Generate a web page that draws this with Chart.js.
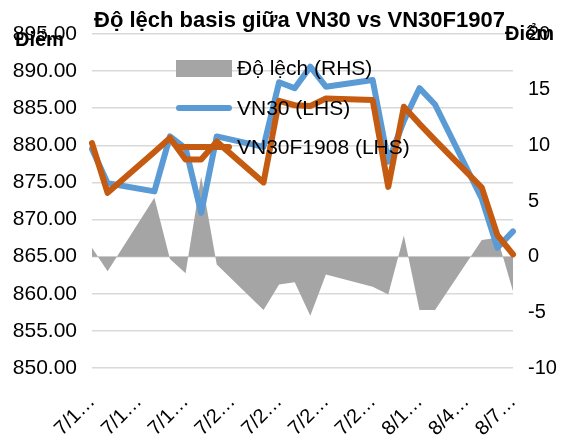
<!DOCTYPE html>
<html>
<head>
<meta charset="utf-8">
<script src="https://cdn.jsdelivr.net/npm/chart.js@4.4.1/dist/chart.umd.min.js"></script>
<style>
  html, body { margin: 0; padding: 0; background: #fff; }
</style>
</head>
<body>
<canvas id="basisChart" width="564" height="441"></canvas>
<script>
// Date axis: every calendar day, only every 3rd one gets a label
const axisDays = [
    "7/11/2019", "7/12/2019", "7/13/2019", "7/14/2019", "7/15/2019", "7/16/2019", "7/17/2019",
    "7/18/2019", "7/19/2019", "7/20/2019", "7/21/2019", "7/22/2019", "7/23/2019", "7/24/2019",
    "7/25/2019", "7/26/2019", "7/27/2019", "7/28/2019", "7/29/2019", "7/30/2019", "7/31/2019",
    "8/1/2019", "8/2/2019", "8/3/2019", "8/4/2019", "8/5/2019", "8/6/2019", "8/7/2019",
];

// Trading days (weekends have no data)
const tradingDays = [
    "7/11/2019", "7/12/2019", "7/15/2019", "7/16/2019", "7/17/2019", "7/18/2019", "7/19/2019",
    "7/22/2019", "7/23/2019", "7/24/2019", "7/25/2019", "7/26/2019", "7/29/2019", "7/30/2019",
    "7/31/2019", "8/1/2019", "8/2/2019", "8/5/2019", "8/6/2019", "8/7/2019",
];
const vn30 = [879.5, 874.9, 873.8, 881.2, 879.6, 870.9, 881.2, 879.8, 888.5, 887.7,
              890.6, 887.9, 888.8, 877.8, 883.3, 887.7, 885.5, 872.8, 866.2, 868.4];
const vn30f = [880.3, 873.6, 879.1, 881.0, 878.1, 878.1, 880.5, 875.0, 886.0, 885.4,
               885.3, 886.3, 886.1, 874.4, 885.2, 882.9, 880.7, 874.3, 867.9, 865.3];
const basis = [0.8, -1.3, 5.3, -0.2, -1.5, 7.2, -0.7, -4.8, -2.5, -2.3,
               -5.3, -1.6, -2.7, -3.4, 1.9, -4.8, -4.8, 1.5, 1.7, -3.1];

const pts = (vals) => tradingDays.map((d, i) => ({ x: d, y: vals[i] }));

const FONT = "'Liberation Sans', Arial, sans-serif";
Chart.defaults.font.family = FONT;
Chart.defaults.color = "#000";

// legend inside the plot + title + axis captions
const overlayText = {
    id: "overlayText",
    afterDatasetsDraw(chart) {
        const { ctx, chartArea } = chart;
        const x0 = chartArea.left + 84;
        const rows = [chartArea.top + 34.5, chartArea.top + 74, chartArea.top + 113];
        ctx.save();
        ctx.font = "21px " + FONT;
        ctx.textBaseline = "middle";
        ctx.fillStyle = "#000";
        chart.data.datasets.forEach((ds, i) => {
            const y = rows[i];
            if (ds.fill) {
                ctx.fillStyle = ds.backgroundColor;
                ctx.fillRect(x0, y - 8.5, 56, 17);
            } else {
                ctx.strokeStyle = ds.borderColor;
                ctx.lineWidth = 6;
                ctx.lineCap = "round";
                ctx.beginPath();
                ctx.moveTo(x0 + 3, y);
                ctx.lineTo(x0 + 53, y);
                ctx.stroke();
            }
            ctx.fillStyle = "#000";
            ctx.fillText(ds.label, x0 + 61, y + 1);
        });
        ctx.restore();
    },
    afterDraw(chart) {
        const { ctx, chartArea } = chart;
        ctx.save();
        ctx.fillStyle = "#000";
        ctx.textBaseline = "alphabetic";
        ctx.font = "bold 22px " + FONT;
        ctx.textAlign = "center";
        ctx.fillText("Độ lệch basis giữa VN30 vs VN30F1907", (chartArea.left + chartArea.right) / 2 - 3, 27);
        ctx.font = "bold 20px " + FONT;
        ctx.textAlign = "left";
        ctx.fillText("Điểm", 15, 46);
        ctx.textAlign = "right";
        ctx.fillText("Điểm", 554, 40);
        ctx.restore();
    },
};

const basisChartConfig = {
    type: "line",
    data: {
        labels: axisDays,
        datasets: [{
            label: "Độ lệch (RHS)",
            data: pts(basis),
            yAxisID: "y1",
            fill: "origin",
            backgroundColor: "#a5a5a5",
            borderColor: "#a5a5a5",
            borderWidth: 0,
            pointRadius: 0,
            order: 3,
        }, {
            label: "VN30 (LHS)",
            data: pts(vn30),
            yAxisID: "y",
            fill: false,
            borderColor: "#5b9bd5",
            backgroundColor: "#5b9bd5",
            borderWidth: 6,
            borderJoinStyle: "round",
            borderCapStyle: "round",
            pointRadius: 0,
            order: 2,
        }, {
            label: "VN30F1908 (LHS)",
            data: pts(vn30f),
            yAxisID: "y",
            fill: false,
            borderColor: "#c55a11",
            backgroundColor: "#c55a11",
            borderWidth: 6,
            borderJoinStyle: "round",
            borderCapStyle: "round",
            pointRadius: 0,
            order: 1,
        }],
    },
    options: {
        responsive: false,
        animation: false,
        layout: { padding: { top: 34, left: 0, right: 0, bottom: 0 } },
        plugins: {
            legend: { display: false },
            tooltip: { enabled: false },
            title: { display: false },
        },
        scales: {
            x: {
                type: "category",
                grid: { display: false, drawTicks: false },
                border: { display: false },
                ticks: {
                    autoSkip: false,
                    maxRotation: 45,
                    minRotation: 45,
                    padding: 22,
                    font: { size: 20 },
                    callback(value, index) {
                        return index % 3 === 0 ? this.getLabelForValue(value).slice(0, 3) + "…" : "";
                    },
                },
                afterFit(scale) { scale.height = 73; },
            },
            y: {
                position: "left",
                min: 850,
                max: 895,
                grid: { color: "#d9d9d9", lineWidth: 1.5, drawTicks: false },
                border: { display: false },
                ticks: {
                    stepSize: 5,
                    padding: 15,
                    font: { size: 21 },
                    callback: (v) => v.toFixed(2),
                },
                afterFit(scale) { scale.width = 92; },
            },
            y1: {
                position: "right",
                min: -10,
                max: 20,
                grid: { display: false, drawTicks: false },
                border: { display: false },
                ticks: {
                    stepSize: 5,
                    padding: 15,
                    font: { size: 20 },
                },
                afterFit(scale) { scale.width = 51; },
            },
        },
    },
    plugins: [overlayText],
};

const basisChart = new Chart(
    document.getElementById("basisChart"),
    basisChartConfig
);
</script>
</body>
</html>
